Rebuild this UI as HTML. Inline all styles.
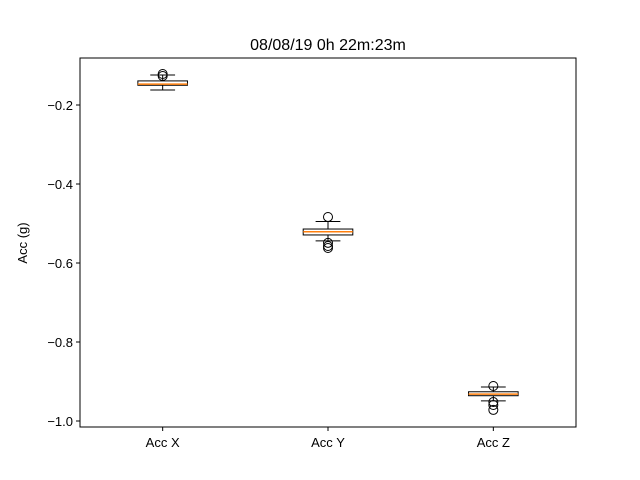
<!DOCTYPE html>
<html><head><meta charset="utf-8"><style>
body{margin:0;background:#fff}
svg{display:block;font-family:"Liberation Sans","DejaVu Sans",sans-serif}
</style></head><body>
<svg id="chart" width="640" height="480" viewBox="0 0 640 480">
<rect x="0" y="0" width="640" height="480" fill="#fff"/>
<text x="328" y="50" font-size="16" text-anchor="middle" fill="#000">08/08/19 0h 22m:23m</text>
<text transform="translate(27,243) rotate(-90)" font-size="13" text-anchor="middle" fill="#000">Acc (g)</text>
<g id="marks"></g>
<rect x="80" y="58" width="496" height="369" fill="none" stroke="#000" stroke-width="1"/>
<g id="axes"></g>
</svg>
<script>
const categories = ["Acc X","Acc Y","Acc Z"];
const whiskerLow = [-0.162,-0.544,-0.949];
const q1 = [-0.150,-0.529,-0.936];
const medians = [-0.147,-0.521,-0.932];
const q3 = [-0.139,-0.514,-0.926];
const whiskerHigh = [-0.124,-0.495,-0.914];
const outliers = [[-0.1215,-0.1266],[-0.4835,-0.549,-0.557,-0.562],[-0.9114,-0.952,-0.9595,-0.972]];
const yTicks = [-0.2,-0.4,-0.6,-0.8,-1.0];
const yTickLabels = ["\u22120.2","\u22120.4","\u22120.6","\u22120.8","\u22121.0"];

const NS="http://www.w3.org/2000/svg";
const L=80,R=576,T=58,B=427;
const yMin=-1.0152,yMax=-0.0810;
const y=v=>T+(yMax-v)/(yMax-yMin)*(B-T);
const x=i=>L+(i+1-0.5)/3*(R-L);
const bw=(R-L)/3*0.3;
function mk(tag,attrs,parent){const e=document.createElementNS(NS,tag);for(const k in attrs)e.setAttribute(k,attrs[k]);parent.appendChild(e);return e;}
const marks=document.getElementById('marks'),axes=document.getElementById('axes');
categories.forEach((c,i)=>{
  const cx=x(i);
  const g=mk('g',{},marks);
  
  
  mk('line',{x1:cx,x2:cx,y1:y(q1[i]),y2:y(whiskerLow[i]),stroke:'#000'},g);
  mk('line',{x1:cx,x2:cx,y1:y(q3[i]),y2:y(whiskerHigh[i]),stroke:'#000'},g);
  mk('line',{x1:cx-bw/4,x2:cx+bw/4,y1:y(whiskerLow[i]),y2:y(whiskerLow[i]),stroke:'#000'},g);
  mk('line',{x1:cx-bw/4,x2:cx+bw/4,y1:y(whiskerHigh[i]),y2:y(whiskerHigh[i]),stroke:'#000'},g);
  mk('rect',{x:cx-bw/2,y:y(q3[i]),width:bw,height:y(q1[i])-y(q3[i]),fill:'none',stroke:'#000'},g);
  mk('line',{x1:cx-bw/2,x2:cx+bw/2,y1:y(medians[i]),y2:y(medians[i]),stroke:'#ff7f0e','stroke-width':1.5},g);
  outliers[i].forEach(v=>{
    const o=mk('circle',{cx:cx,cy:y(v),r:4.5,fill:'none',stroke:'#000'},g);
    
    
  });
  mk('line',{x1:cx,x2:cx,y1:B,y2:B+4,stroke:'#000'},axes);
  const t=mk('text',{x:cx,y:B+20,'font-size':13,'text-anchor':'middle',fill:'#000'},axes);
  t.textContent=c;
  
  
});
yTicks.forEach((v,j)=>{
  const yy=y(v);
  mk('line',{x1:L-4,x2:L,y1:yy,y2:yy,stroke:'#000'},axes);
  const t=mk('text',{x:L-7,y:yy+5,'font-size':13,'text-anchor':'end',fill:'#000'},axes);
  t.textContent=yTickLabels[j];
  
  
});
</script>
</body></html>
